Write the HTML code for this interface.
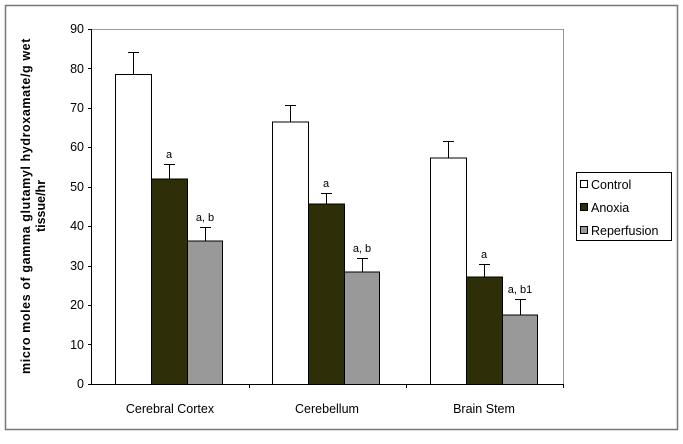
<!DOCTYPE html>
<html><head><meta charset="utf-8"><style>body{margin:0;background:#fff}</style></head><body>
<svg width="683" height="439" xmlns="http://www.w3.org/2000/svg" font-family="Liberation Sans, sans-serif">
<rect x="0" y="0" width="683" height="439" fill="#fff"/>
<rect x="5.5" y="5.5" width="672" height="424" fill="none" stroke="#777" stroke-width="1.5"/>
<line x1="91" y1="29.5" x2="564" y2="29.5" stroke="#999"/>
<line x1="563.5" y1="29" x2="563.5" y2="384" stroke="#999"/>
<g stroke="#000" stroke-width="1">
<line x1="91.5" y1="29" x2="91.5" y2="384"/>
<line x1="88" y1="384.5" x2="564" y2="384.5"/>
<line x1="249.5" y1="384" x2="249.5" y2="388"/>
<line x1="406.5" y1="384" x2="406.5" y2="388"/>
<line x1="563.5" y1="384" x2="563.5" y2="388"/>
</g>
<g font-size="12.5" text-anchor="end" fill="#000">
<text x="84" y="388">0</text><text x="84" y="349">10</text><text x="84" y="309">20</text><text x="84" y="270">30</text><text x="84" y="230">40</text><text x="84" y="191">50</text><text x="84" y="151">60</text><text x="84" y="112">70</text><text x="84" y="73">80</text><text x="84" y="33">90</text>
</g>
<g stroke="#000"><line x1="88" y1="344.5" x2="91" y2="344.5"/><line x1="88" y1="305.5" x2="91" y2="305.5"/><line x1="88" y1="266.5" x2="91" y2="266.5"/><line x1="88" y1="226.5" x2="91" y2="226.5"/><line x1="88" y1="187.5" x2="91" y2="187.5"/><line x1="88" y1="147.5" x2="91" y2="147.5"/><line x1="88" y1="108.5" x2="91" y2="108.5"/><line x1="88" y1="68.5" x2="91" y2="68.5"/><line x1="88" y1="29.5" x2="91" y2="29.5"/></g>
<g stroke="#000" stroke-width="1">
<rect x="115.5" y="74.5" width="36" height="310" fill="#fff"/>
<rect x="151.5" y="179" width="36" height="205.5" fill="#2e2e08"/>
<rect x="187.5" y="241" width="35" height="143.5" fill="#999"/>
<line x1="133.5" y1="74" x2="133.5" y2="52"/><line x1="128" y1="52.5" x2="139" y2="52.5"/>
<line x1="169.5" y1="179" x2="169.5" y2="164"/><line x1="164" y1="164.5" x2="175" y2="164.5"/>
<line x1="205.5" y1="241" x2="205.5" y2="227"/><line x1="200" y1="227.5" x2="211" y2="227.5"/>
<rect x="272.5" y="122" width="36" height="262.5" fill="#fff"/>
<rect x="308.5" y="204" width="36" height="180.5" fill="#2e2e08"/>
<rect x="344.5" y="272" width="35" height="112.5" fill="#999"/>
<line x1="290.5" y1="122" x2="290.5" y2="105"/><line x1="285" y1="105.5" x2="296" y2="105.5"/>
<line x1="326.5" y1="204" x2="326.5" y2="193"/><line x1="321" y1="193.5" x2="332" y2="193.5"/>
<line x1="362.5" y1="272" x2="362.5" y2="258"/><line x1="357" y1="258.5" x2="368" y2="258.5"/>
<rect x="430.5" y="158" width="36" height="226.5" fill="#fff"/>
<rect x="466.5" y="277" width="36" height="107.5" fill="#2e2e08"/>
<rect x="502.5" y="315" width="35" height="69.5" fill="#999"/>
<line x1="448.5" y1="158" x2="448.5" y2="141"/><line x1="443" y1="141.5" x2="454" y2="141.5"/>
<line x1="484.5" y1="277" x2="484.5" y2="264"/><line x1="479" y1="264.5" x2="490" y2="264.5"/>
<line x1="520.5" y1="315" x2="520.5" y2="299"/><line x1="515" y1="299.5" x2="526" y2="299.5"/>
</g>
<g font-size="11" text-anchor="middle" fill="#000">
<text x="169" y="158">a</text><text x="205" y="221">a, b</text>
<text x="326" y="187">a</text><text x="362" y="252">a, b</text>
<text x="484" y="258">a</text><text x="520" y="293">a, b1</text>
</g>
<g font-size="12.5" text-anchor="middle" fill="#000">
<text x="170" y="413">Cerebral Cortex</text><text x="327" y="413">Cerebellum</text><text x="484" y="413">Brain Stem</text>
</g>
<text transform="translate(30,206) rotate(-90)" font-size="12.5" font-weight="bold" text-anchor="middle" letter-spacing="0.6">micro moles of gamma glutamyl hydroxamate/g wet</text>
<text transform="translate(45,206) rotate(-90)" font-size="12.5" font-weight="bold" text-anchor="middle">tissue/hr</text>
<rect x="576.5" y="172.5" width="95" height="68" fill="#fff" stroke="#000"/>
<g stroke="#000"><rect x="580.5" y="180.5" width="7" height="7" fill="#fff"/><rect x="580.5" y="203.5" width="7" height="7" fill="#2e2e08"/><rect x="580.5" y="226.5" width="7" height="7" fill="#999"/></g>
<g font-size="12.5" fill="#000"><text x="591" y="189">Control</text><text x="591" y="212">Anoxia</text><text x="591" y="235">Reperfusion</text></g>
</svg>
</body></html>
